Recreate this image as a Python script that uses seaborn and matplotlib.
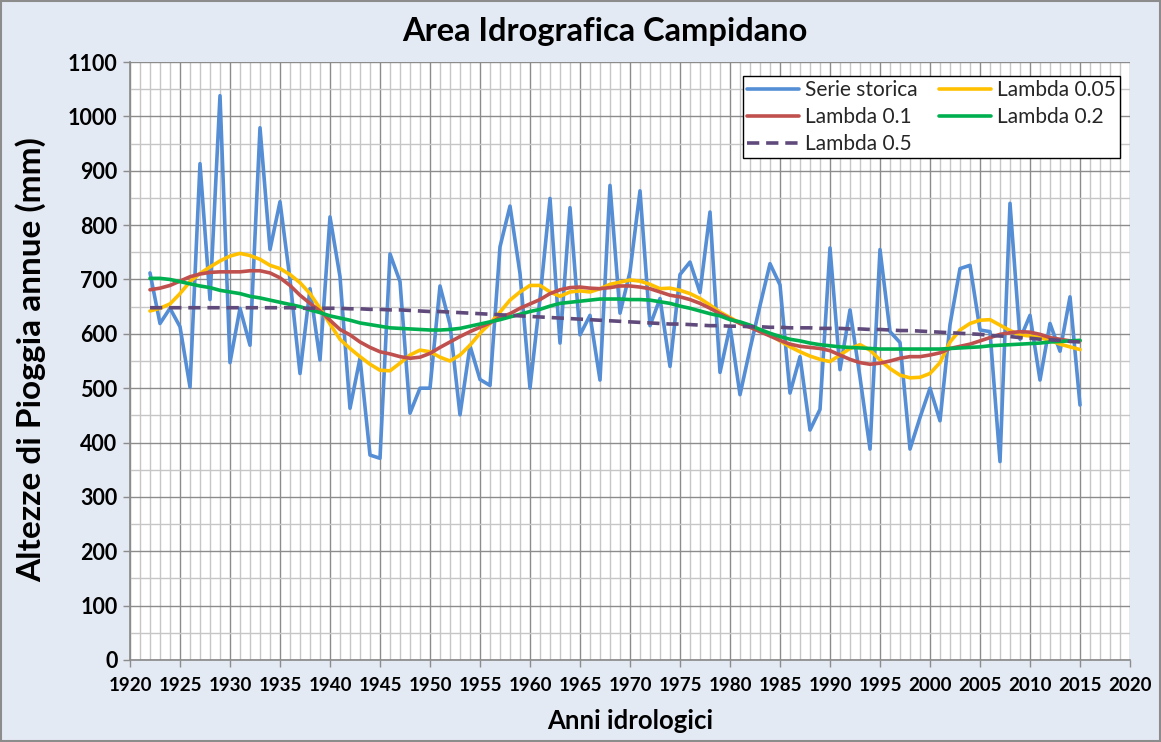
import numpy as np
import pandas as pd
import matplotlib
matplotlib.use("Agg")
import matplotlib.pyplot as plt
import seaborn as sns
from matplotlib.ticker import MultipleLocator
from matplotlib.patches import Rectangle

# ---------------- data ----------------
years = list(range(1922, 2016))

serie_storica = [
    712, 619, 647, 613, 502, 913, 663, 1038,             # 1922-1929
    547, 647, 579, 979, 755, 843, 700, 527, 683, 552,    # 1930-1939
    815, 705, 463, 555, 377, 371, 747, 696, 454, 500,    # 1940-1949
    500, 688, 617, 451, 578, 516, 505, 760, 835, 711,    # 1950-1959
    500, 665, 849, 583, 832, 598, 634, 515, 873, 638,    # 1960-1969
    714, 863, 615, 665, 540, 709, 732, 676, 824, 529,    # 1970-1979
    614, 488, 572, 652, 729, 690, 491, 558, 423, 461,    # 1980-1989
    758, 534, 644, 520, 388, 755, 604, 584, 388, 446,    # 1990-1999
    500, 440, 617, 720, 726, 607, 604, 365, 840, 590,    # 2000-2009
    634, 515, 619, 568, 668, 469,                        # 2010-2015
]

lambda_005 = [
    642, 647, 655, 674, 696, 711, 723, 734,
    743, 748, 744, 737, 726, 720, 709, 694, 674, 647,
    618, 590, 573, 558, 544, 533, 532, 546, 561, 570,
    567, 557, 550, 561, 579, 601, 619, 640, 662, 677,
    689, 689, 677, 669, 677, 679, 677, 683, 691, 695,
    699, 697, 691, 683, 684, 680, 674, 665, 653, 640,
    630, 620, 614, 607, 598, 587, 576, 567, 559, 553,
    549, 561, 573, 580, 570, 552, 536, 524, 519, 520,
    527, 547, 585, 607, 619, 625, 626, 616, 606, 598,
    596, 593, 588, 581, 576, 571,
]

lambda_01 = [
    681, 684, 689, 697, 705, 710, 713, 714,
    714, 714, 716, 716, 712, 703, 689, 671, 656, 642,
    625, 608, 598, 585, 575, 567, 563, 558, 555, 557,
    564, 575, 585, 595, 604, 612, 620, 630, 637, 647,
    655, 663, 674, 681, 685, 686, 684, 683, 685, 688,
    688, 686, 683, 677, 671, 668, 663, 656, 647, 637,
    628, 619, 612, 604, 596, 588, 581, 577, 575, 573,
    569, 561, 553, 547, 544, 546, 550, 555, 558, 558,
    561, 565, 573, 577, 581, 587, 593, 599, 602, 604,
    603, 599, 593, 590, 587, 587,
]

lambda_02 = [
    702, 702, 700, 696, 692, 688, 685, 680,
    677, 674, 669, 666, 662, 658, 654, 650, 644, 639,
    633, 629, 625, 620, 617, 614, 611, 610, 609, 608,
    607, 607, 608, 610, 614, 618, 622, 626, 631, 636,
    641, 645, 651, 656, 658, 660, 662, 664, 664, 664,
    663, 663, 662, 659, 656, 651, 647, 642, 637, 633,
    626, 622, 616, 608, 601, 595, 590, 587, 583, 580,
    578, 576, 575, 574, 573, 572, 572, 572, 572, 572,
    572, 572, 573, 574, 575, 576, 578, 579, 580, 581,
    582, 583, 585, 586, 587, 588,
]

lambda_05 = [
    648, 648, 648, 648, 648, 648, 648, 648,
    648, 648, 648, 648, 648, 648, 648, 647, 647, 647,
    647, 647, 646, 646, 645, 645, 644, 644, 643, 642,
    641, 641, 640, 639, 638, 637, 636, 635, 634, 633,
    632, 631, 630, 629, 628, 627, 626, 625, 624, 623,
    622, 621, 620, 619, 618, 618, 617, 616, 615, 615,
    614, 614, 613, 613, 612, 612, 611, 611, 611, 610,
    610, 610, 609, 609, 608, 608, 607, 606, 606, 605,
    604, 603, 602, 601, 600, 599, 597, 596, 595, 593,
    592, 590, 589, 588, 586, 585,
]

series_names = ["Serie storica", "Lambda 0.05", "Lambda 0.1", "Lambda 0.2", "Lambda 0.5"]
series_values = [serie_storica, lambda_005, lambda_01, lambda_02, lambda_05]

title = "Area Idrografica Campidano"
xlabel = "Anni idrologici"
ylabel = "Altezze di Pioggia annue (mm)"

# ---------------- style ----------------
colors = {
    "Serie storica": "#558ED5",
    "Lambda 0.05": "#FFC000",
    "Lambda 0.1": "#C0504D",
    "Lambda 0.2": "#00B050",
    "Lambda 0.5": "#604A7B",
}
styles = {
    "Serie storica": "-",
    "Lambda 0.05": "-",
    "Lambda 0.1": "-",
    "Lambda 0.2": "-",
    "Lambda 0.5": (0, (3.4, 1.9)),
}

sns.set_theme(style="white")
plt.rcParams["font.family"] = ["Lato", "DejaVu Sans"]

W, H = 1161, 742
fig = plt.figure(figsize=(W / 100, H / 100), dpi=100)
fig.patch.set_facecolor("#E4EAF4")
ax = fig.add_axes([130 / W, 1 - 660 / H, 1000 / W, 598 / H])
ax.set_facecolor("white")

df = pd.DataFrame({"Anno": years})
for name, vals in zip(series_names, series_values):
    df[name] = vals
long = df.melt(id_vars="Anno", var_name="Serie", value_name="mm")

for name in series_names:
    sub = long[long["Serie"] == name]
    sns.lineplot(data=sub, x="Anno", y="mm", ax=ax, color=colors[name],
                 linewidth=2.6, linestyle=styles[name], label=name,
                 zorder=3 if name == "Serie storica" else 4)

ax.set_xlim(1920, 2020)
ax.set_ylim(0, 1100)
ax.xaxis.set_major_locator(MultipleLocator(5))
ax.xaxis.set_minor_locator(MultipleLocator(1))
ax.yaxis.set_major_locator(MultipleLocator(100))
ax.yaxis.set_minor_locator(MultipleLocator(50))
ax.grid(True, which="major", color="#8C8C8C", linewidth=1.0, zorder=0)
ax.grid(True, which="minor", color="#C6C6C6", linewidth=1.0, zorder=0)
ax.set_axisbelow(True)

for s in ax.spines.values():
    s.set_visible(False)
ax.spines["left"].set_visible(True)
ax.spines["bottom"].set_visible(True)
ax.spines["left"].set_color("#8C8C8C")
ax.spines["bottom"].set_color("#8C8C8C")

ax.tick_params(axis="both", which="major", direction="out", length=5, width=1,
               color="#8C8C8C", bottom=True, left=True)
ax.tick_params(axis="both", which="minor", length=0)
ax.tick_params(axis="y", labelsize=15.5, pad=4)
ax.tick_params(axis="x", labelsize=13.5, pad=7)
for lab in ax.get_xticklabels() + ax.get_yticklabels():
    lab.set_fontweight("bold")
    lab.set_color("black")

ax.set_xlabel("")
ax.set_ylabel("")
fig.text(630 / W, 1 - 721 / H, xlabel, ha="center", va="center",
         fontsize=18.5, fontweight="bold", color="black")
fig.text(31 / W, 1 - 360 / H, ylabel, ha="center", va="center", rotation=90,
         fontsize=24, fontweight="bold", color="black")
fig.text(605 / W, 1 - 32 / H, title, ha="center", va="center",
         fontsize=23.5, fontweight="bold", color="black")

handles, labels = ax.get_legend_handles_labels()
hmap = dict(zip(labels, handles))
order = ["Serie storica", "Lambda 0.1", "Lambda 0.5", "Lambda 0.05", "Lambda 0.2"]
leg = ax.legend([hmap[o] for o in order], order, ncol=2, loc="upper right",
                bbox_to_anchor=(0.99, 0.9766), borderaxespad=0,
                fontsize=15, frameon=True, fancybox=False,
                edgecolor="black", framealpha=1, handlelength=2.5, columnspacing=1.0,
                handletextpad=0.3, labelspacing=0.34, borderpad=0.2)
leg.get_frame().set_linewidth(1.0)

fig.patches.append(Rectangle((0.001, 0.001), 0.998, 0.998, transform=fig.transFigure,
                             fill=False, edgecolor="#8C8C8C", linewidth=1.5))

fig.savefig("out.png", dpi=100, facecolor=fig.get_facecolor())
